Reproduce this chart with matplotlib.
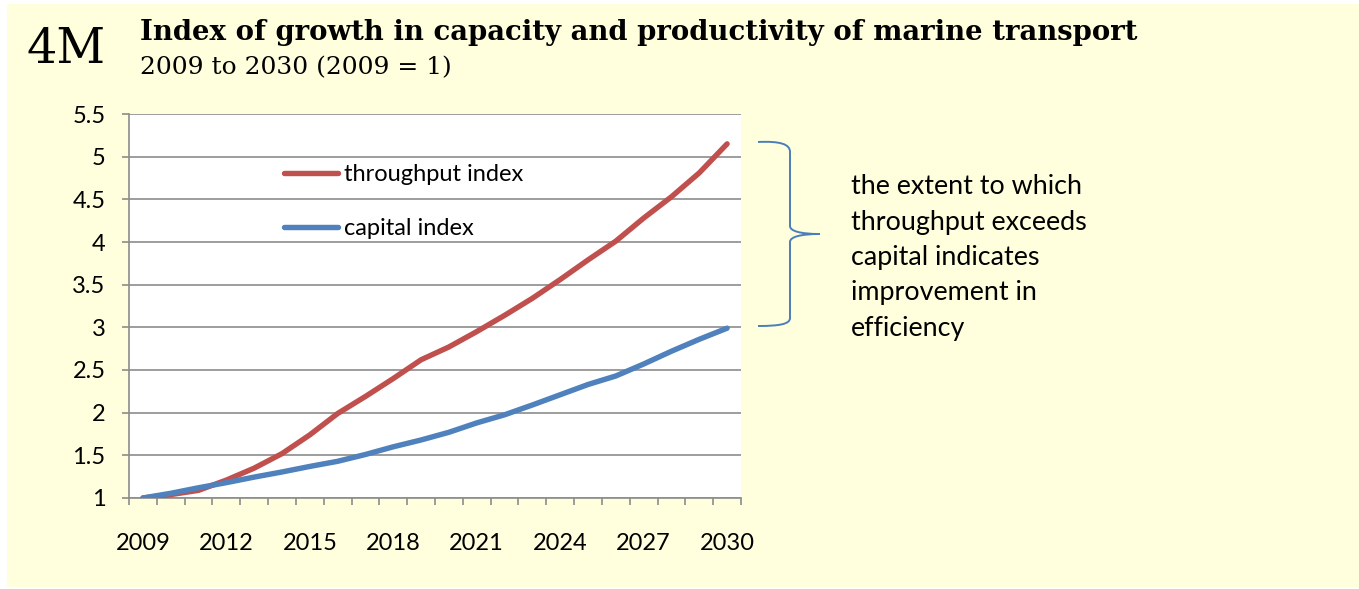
import matplotlib
matplotlib.use("Agg")
import matplotlib.pyplot as plt
from matplotlib.patches import Rectangle, PathPatch
from matplotlib.path import Path
from matplotlib.ticker import FixedLocator

years = list(range(2009, 2031))
throughput = [1.00, 1.04, 1.09, 1.21, 1.35, 1.52, 1.74, 1.99, 2.19, 2.40, 2.62, 2.77,
              2.95, 3.14, 3.34, 3.56, 3.79, 4.01, 4.28, 4.53, 4.81, 5.15]
capital = [1.00, 1.055, 1.12, 1.18, 1.245, 1.305, 1.37, 1.43, 1.51, 1.60, 1.68, 1.77,
           1.88, 1.975, 2.09, 2.21, 2.33, 2.43, 2.57, 2.72, 2.86, 2.99]
year_labels = ["2009", "2012", "2015", "2018", "2021", "2024", "2027", "2030"]
y_ticks = [1, 1.5, 2, 2.5, 3, 3.5, 4, 4.5, 5, 5.5]
y_labels = ["1", "1.5", "2", "2.5", "3", "3.5", "4", "4.5", "5", "5.5"]
series_names = ["throughput index", "capital index"]
note_lines = ["the extent to which", "throughput exceeds", "capital indicates",
              "improvement in", "efficiency"]

W, H = 1359, 589
fig = plt.figure(figsize=(W / 100, H / 100), dpi=100)
fig.patch.set_facecolor("white")

def fx(x):
    return x / W

def fy(y):
    return 1 - y / H

# yellow background panel
fig.patches.append(Rectangle((fx(7), fy(587)), fx(W) - fx(7), fy(4) - fy(587),
                             transform=fig.transFigure, facecolor="#FFFFDD",
                             edgecolor="none", zorder=-10))

ax = fig.add_axes([fx(129), fy(498), fx(741) - fx(129), fy(114) - fy(498)])
ax.set_zorder(1)
ax.set_facecolor("white")

xs = list(range(len(years)))
RED = "#C0504D"
BLUE = "#4F81BD"
ax.plot(xs, throughput, color=RED, lw=3.9, solid_capstyle="round", solid_joinstyle="round",
        label=series_names[0], zorder=3)
ax.plot(xs, capital, color=BLUE, lw=3.9, solid_capstyle="round", solid_joinstyle="round",
        label=series_names[1], zorder=3)

ax.set_xlim(-0.5, len(years) - 0.5)
ax.set_ylim(1, 5.5)

GRID = "#8C8C8C"
ax.set_yticks(y_ticks)
ax.set_yticklabels(y_labels)
ax.yaxis.grid(True, color=GRID, lw=1.2)
ax.set_axisbelow(True)

label_pos = [years.index(int(l)) for l in year_labels]
ax.set_xticks(label_pos)
ax.set_xticklabels(year_labels)
ax.xaxis.set_minor_locator(FixedLocator([i - 0.5 for i in range(len(years) + 1)]))

for s in ["top", "right"]:
    ax.spines[s].set_visible(False)
for s in ["left", "bottom"]:
    ax.spines[s].set_color(GRID)
    ax.spines[s].set_linewidth(1.2)

FONT = "Lato"
FS = 17
ax.tick_params(axis="y", length=5, width=1.2, color=GRID, pad=12, labelsize=FS)
ax.tick_params(axis="x", which="major", length=0, pad=25, labelsize=FS)
ax.tick_params(axis="x", which="minor", length=5, width=1.2, color=GRID)
for lab in ax.get_xticklabels() + ax.get_yticklabels():
    lab.set_fontfamily(FONT)

leg = ax.legend(loc="upper left", frameon=False, handlelength=2.29,
                handletextpad=0.25, labelspacing=1.39, prop={"family": FONT, "size": FS},
                borderaxespad=0, borderpad=0)
leg.set_bbox_to_anchor(((284 - 129) / (741 - 129), 1 - (164 - 114) / 384), transform=ax.transAxes)

# titles
fig.text(fx(27), fy(63), "4M", family="DejaVu Serif", fontsize=34.3, va="baseline", ha="left")
fig.text(fx(140), fy(40), "Index of growth in capacity and productivity of marine transport",
         family="DejaVu Serif", fontweight="bold", fontsize=19.8, va="baseline", ha="left")
fig.text(fx(140), fy(74), "2009 to 2030 (2009 = 1)", family="DejaVu Serif", fontsize=18,
         va="baseline", ha="left")

# brace
verts = [(758, 142), (780, 141), (790, 144), (790, 152),
         (790, 226),
         (790, 231), (800, 234), (820, 234),
         (800, 234), (790, 237), (790, 242),
         (790, 318),
         (790, 324), (780, 326), (758, 326)]
codes = [Path.MOVETO, Path.CURVE4, Path.CURVE4, Path.CURVE4,
         Path.LINETO,
         Path.CURVE4, Path.CURVE4, Path.CURVE4,
         Path.CURVE4, Path.CURVE4, Path.CURVE4,
         Path.LINETO,
         Path.CURVE4, Path.CURVE4, Path.CURVE4]
path = Path([(fx(x), fy(y)) for x, y in verts], codes)
fig.patches.append(PathPatch(path, transform=fig.transFigure, facecolor="none",
                             edgecolor="#4A7EBB", lw=1.4))

for i, line in enumerate(note_lines):
    fig.text(fx(851), fy(187 + i * 35.3), line, family=FONT, fontsize=19.4,
             va="center", ha="left")

fig.savefig("out.png", dpi=100, facecolor=fig.get_facecolor())
